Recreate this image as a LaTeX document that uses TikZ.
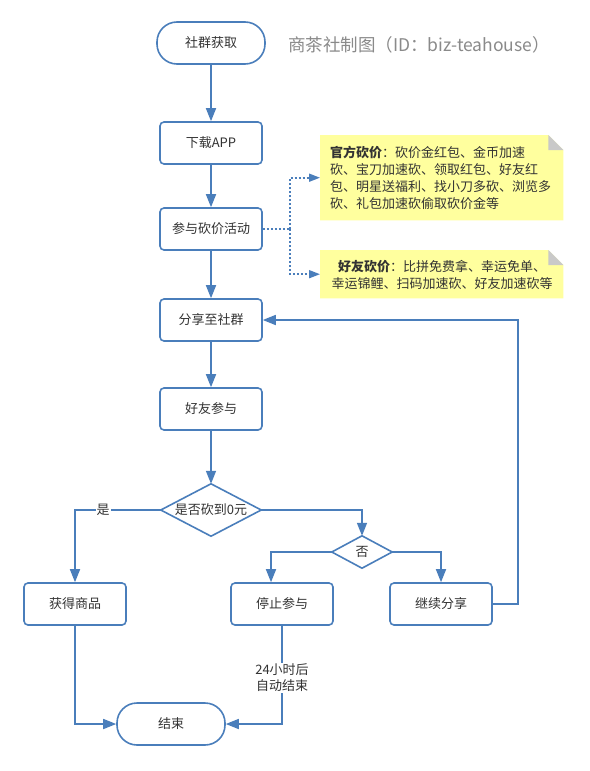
\documentclass[tikz,border=0pt]{standalone}
\usepackage{fontspec}
\setmainfont{Noto Sans CJK SC}
\usetikzlibrary{arrows.meta}
\definecolor{lineblue}{HTML}{4A7EBB}
\definecolor{txt}{HTML}{333333}
\definecolor{notey}{HTML}{FFFF9E}
\definecolor{foldc}{HTML}{C9C9C9}
\definecolor{titlegray}{HTML}{8A8A8A}
\begin{document}
\begin{tikzpicture}[x=1pt,y=-1pt,
  box/.style={draw=lineblue,line width=1.6pt,rounded corners=4pt,minimum width=102pt,minimum height=42pt,inner sep=0pt,text=txt,font=\fontsize{13}{15}\selectfont,fill=white},
  term/.style={box,rounded corners=20pt,minimum width=108pt,minimum height=42pt},
  dianode/.style={inner sep=0pt,text=txt,font=\fontsize{13}{15}\selectfont},
  diashape/.style={draw=lineblue,line width=1.6pt,line join=miter,fill=white},
  arr/.style={draw=lineblue,line width=1.6pt,-{Triangle[length=13pt,width=10pt]}},
  ln/.style={draw=lineblue,line width=1.6pt},
  dotln/.style={draw=lineblue,line width=1.6pt,dash pattern=on 2pt off 2pt},
  dotarr/.style={dotln,-{Triangle[length=11pt,width=8pt]}},
  lbl/.style={fill=white,inner sep=1pt,text=txt,font=\fontsize{13}{16}\selectfont,align=center},
  notebox/.style={inner sep=0pt,anchor=north west},
  notetext/.style={text=txt,font=\fontsize{13}{17}\selectfont,inner sep=0pt}
]
\fill[white] (0,0) rectangle (589,771);
\useasboundingbox (0,0) rectangle (589,771);

% main nodes
\node[term] (s1) at (211,43) {社群获取};
\node[box] (s2) at (211,143) {下载APP};
\node[box] (s3) at (211,229) {参与砍价活动};
\node[box] (s4) at (211,320) {分享至社群};
\node[box] (s5) at (211,409) {好友参与};
\node[dianode,minimum width=100pt,minimum height=52pt] (d1) at (211,510) {};
\node[dianode,minimum width=60pt,minimum height=32pt] (d2) at (362,552) {};
\draw[diashape] (d1.west) -- (d1.north) -- (d1.east) -- (d1.south) -- cycle;
\draw[diashape] (d2.west) -- (d2.north) -- (d2.east) -- (d2.south) -- cycle;
\node[dianode] at (d1) {是否砍到0元};
\node[dianode] at (d2) {否};
\node[box] (g) at (75,604) {获得商品};
\node[box] (st) at (282,604) {停止参与};
\node[box] (c) at (441,604) {继续分享};
\node[term] (e) at (171,724) {结束};

% title
\node[anchor=west,inner sep=0pt,text=titlegray,font=\fontsize{17.5}{20}\selectfont] (title) at (288,45) {商茶社制图（ID：biz-teahouse）};

% notes
\node[notebox,minimum width=243pt,minimum height=85pt] (n1) at (320,135) {};
\fill[notey] (n1.north west) -- ([xshift=-15pt]n1.north east) -- ([yshift=-15pt]n1.north east) -- (n1.south east) -- (n1.south west) -- cycle;
\fill[foldc] ([xshift=-15pt]n1.north east) -- ([yshift=-15pt]n1.north east) -- ([xshift=-15pt,yshift=-15pt]n1.north east) -- cycle;
\node[notetext,anchor=north west,align=left] (t1) at (330,146) {\textbf{官方砍价}：砍价金红包、金币加速\\砍、宝刀加速砍、领取红包、好友红\\包、明星送福利、找小刀多砍、浏览多\\砍、礼包加速砍偷取砍价金等};

\node[notebox,minimum width=243pt,minimum height=48pt] (n2) at (320,250) {};
\fill[notey] (n2.north west) -- ([xshift=-15pt]n2.north east) -- ([yshift=-15pt]n2.north east) -- (n2.south east) -- (n2.south west) -- cycle;
\fill[foldc] ([xshift=-15pt]n2.north east) -- ([yshift=-15pt]n2.north east) -- ([xshift=-15pt,yshift=-15pt]n2.north east) -- cycle;
\node[notetext,align=center] (t2) at (442,275) {\textbf{好友砍价}：比拼免费拿、幸运免单、\\幸运锦鲤、扫码加速砍、好友加速砍等};

% connectors
\draw[arr] (s1) -- (s2);
\draw[arr] (s2) -- (s3);
\draw[arr] (s3) -- (s4);
\draw[arr] (s4) -- (s5);
\draw[arr] (s5) -- (d1.north);

\coordinate (jd) at (290,229);
\draw[dotln] (s3.east) -- (jd);
\draw[dotarr] (jd) |- (n1.west);
\draw[dotarr] (jd) |- (n2.west);

\draw[arr] (d1.west) -| (g.north);
\node[lbl] at (103,510) {是};
\draw[arr] (d1.east) -| (d2.north);
\draw[arr] (d2.west) -| ([xshift=-11pt]st.north);
\draw[arr] (d2.east) -| (c.north);
\coordinate (cr) at (518,604);
\draw[arr] (c.east) -- (cr) |- (s4.east);
\draw[arr] (g.south) |- (e.west);
\draw[arr] (st.south) |- (e.east);
\node[lbl] (lb24) at (282,678) {24小时后\\自动结束};
\end{tikzpicture}
\end{document}
